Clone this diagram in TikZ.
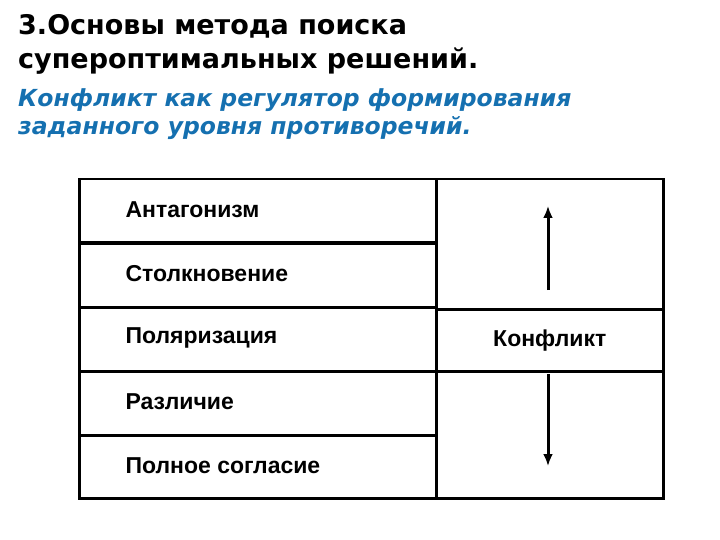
\documentclass[tikz,border=0pt]{standalone}
\usepackage{fontspec}
\usetikzlibrary{arrows.meta}
\setmainfont{DejaVu Sans}
\newfontfamily\tabfont{Liberation Sans}
\definecolor{subblue}{HTML}{1570B0}
\begin{document}
\begin{tikzpicture}[x=1pt,y=-1pt,
  cell/.style={draw=black,line width=2.5pt,minimum height=64pt,anchor=north west,inner sep=0pt},
  lab/.style={anchor=west,font=\tabfont\bfseries\fontsize{23}{26}\selectfont},
  arr/.style={-{Latex[length=12pt,width=10pt]},line width=3pt}]
\useasboundingbox (0,0) rectangle (720,540);
\node[anchor=north west,align=left,inner sep=0pt,font=\bfseries\fontsize{27}{34}\selectfont] (title) at (18,14) {3.Основы метода поиска\\супероптимальных решений.};
\node[anchor=north west,align=left,inner sep=0pt,text=subblue,font=\bfseries\itshape\fontsize{23.5}{28}\selectfont] (sub) at (18,88) {Конфликт как регулятор формирования\\заданного уровня противоречий.};
\node[cell,minimum width=357pt] (r1) at (78,178) {};
\node[cell,minimum width=357pt,minimum height=65pt] (r2) at (78,241) {};
\node[cell,minimum width=357pt] (r3) at (78,306) {};
\node[cell,minimum width=357pt] (r4) at (78,370) {};
\node[cell,minimum width=357pt,minimum height=63pt] (r5) at (78,434) {};
\node[cell,minimum width=227pt,minimum height=319pt] (right) at (435,178) {};
\node[cell,minimum width=227pt,minimum height=62pt] (konf) at (435,308) {};
\node[lab] at (122,210) {Антагонизм};
\node[lab] at (122,274) {Столкновение};
\node[lab] at (122,338) {Поляризация};
\node[lab] at (122,402) {Различие};
\node[lab] at (122,466) {Полное согласие};
\node[font=\tabfont\bfseries\fontsize{23}{26}\selectfont] at (konf.center) {Конфликт};
\coordinate (us) at (548,290);
\coordinate (ut) at (548,206);
\coordinate (ds) at (548,374);
\coordinate (db) at (548,466);
\draw[arr] (us) -- (ut);
\draw[arr] (ds) -- (db);
\end{tikzpicture}
\end{document}
